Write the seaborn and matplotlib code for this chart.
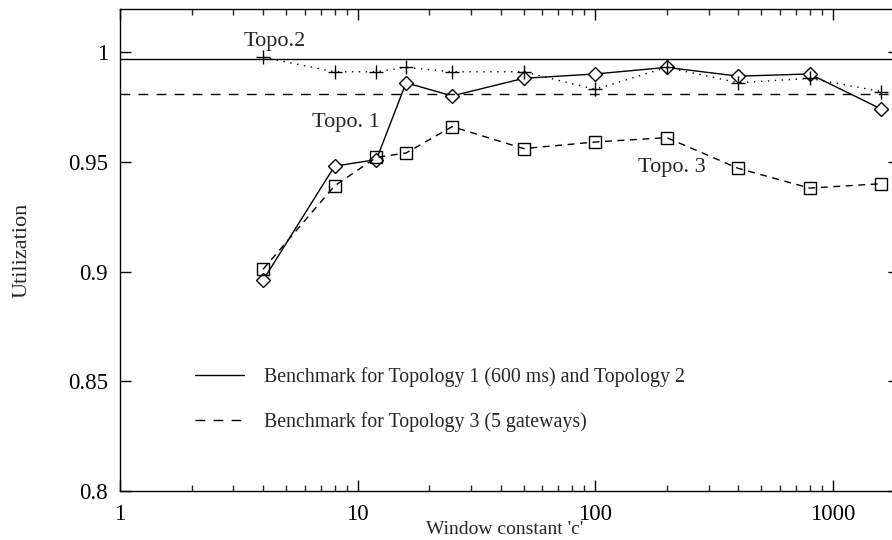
import numpy as np
import pandas as pd
import matplotlib
matplotlib.use("Agg")
import matplotlib.pyplot as plt
import seaborn as sns
from matplotlib.ticker import FixedLocator, NullFormatter, LogLocator

# ---- data ----
window_c = [4, 8, 12, 16, 25, 50, 100, 200, 400, 800, 1600]
topo1 = [0.896, 0.948, 0.951, 0.986, 0.980, 0.988, 0.990, 0.993, 0.989, 0.990, 0.974]
topo2 = [0.9976, 0.991, 0.991, 0.993, 0.991, 0.991, 0.983, 0.993, 0.986, 0.988, 0.982]
topo3 = [0.901, 0.939, 0.952, 0.954, 0.966, 0.956, 0.959, 0.961, 0.947, 0.938, 0.940]
bench_12 = 0.9968
bench_3 = 0.981
ytick_vals = [0.8, 0.85, 0.9, 0.95, 1.0]
ytick_labels = ["0.8", "0.85", "0.9", "0.95", "1"]
xtick_vals = [1, 10, 100, 1000]
xtick_labels = ["1", "10", "100", "1000"]
legend_labels = ["Benchmark for Topology 1 (600 ms) and Topology 2",
                 "Benchmark for Topology 3 (5 gateways)"]

df1 = pd.DataFrame({"c": window_c, "u": topo1})
df2 = pd.DataFrame({"c": window_c, "u": topo2})
df3 = pd.DataFrame({"c": window_c, "u": topo3})

sns.set_style("ticks")
plt.rcParams["font.family"] = ["Liberation Serif", "DejaVu Serif"]
plt.rcParams["font.size"] = 14

fig = plt.figure(figsize=(8.92, 5.40), dpi=100)
ax = fig.add_axes([120 / 892, 49 / 540, 779 / 892, 482 / 540])

lw = 1.0
sns.lineplot(data=df1, x="c", y="u", ax=ax, color="black", lw=lw, linestyle="-",
             marker="D", markersize=7, markerfacecolor="white", markeredgecolor="black",
             markeredgewidth=1.0)
sns.lineplot(data=df3, x="c", y="u", ax=ax, color="black", lw=lw, linestyle=(0, (5, 4)),
             marker="s", markersize=9, markerfacecolor="none", markeredgecolor="black",
             markeredgewidth=1.0)
sns.lineplot(data=df2, x="c", y="u", ax=ax, color="black", lw=lw, linestyle=(0, (1, 4)),
             marker="+", markersize=10, markeredgecolor="black", markeredgewidth=1.0)

h1 = ax.axhline(bench_12, color="black", lw=lw, linestyle="-")
h2 = ax.axhline(bench_3, color="black", lw=lw, linestyle=(0, (7, 6)))

ax.set_xscale("log")
ax.set_xlim(1, 1900)
ax.set_ylim(0.8, 1.0196)

ax.xaxis.set_major_locator(FixedLocator(xtick_vals))
ax.set_xticklabels(xtick_labels)
ax.xaxis.set_minor_locator(LogLocator(base=10, subs=np.arange(2, 10)))
ax.xaxis.set_minor_formatter(NullFormatter())
ax.set_yticks(ytick_vals)
ax.set_yticklabels(ytick_labels)

ax.tick_params(axis="both", which="major", direction="in", length=8, width=1,
               top=True, right=True, labelsize=16.5, colors="black")
ax.tick_params(axis="x", which="minor", direction="in", length=4.5, width=1, top=True)
ax.tick_params(axis="x", which="major", pad=9)
ax.tick_params(axis="y", which="major", pad=8.5)
for s in ax.spines.values():
    s.set_linewidth(1.0)
    s.set_color("black")

ax.set_xlabel("Window constant 'c'", fontsize=14)
ax.xaxis.set_label_coords((505 - 120) / 779, -(529 - 491) / 482)
ax.xaxis.label.set_va("center")
ax.set_ylabel("Utilization", fontsize=16)
ax.yaxis.set_label_coords(-(120 - 22) / 779, 0.5)
ax.yaxis.label.set_va("center")

ax.text(4.49, 1.005, "Topo.2", fontsize=16, ha="center", va="center")
ax.text(8.95, 0.9681, "Topo. 1", fontsize=16, ha="center", va="center")
ax.text(211, 0.9472, "Topo. 3", fontsize=16, ha="center", va="center")

leg = ax.legend(handles=[h1, h2], labels=legend_labels, loc="upper left",
                bbox_to_anchor=(0.0727, 0.2946), frameon=False, fontsize=14.3,
                handlelength=2.5, handletextpad=1.0, labelspacing=1.26)

fig.savefig("out.png", dpi=100)
